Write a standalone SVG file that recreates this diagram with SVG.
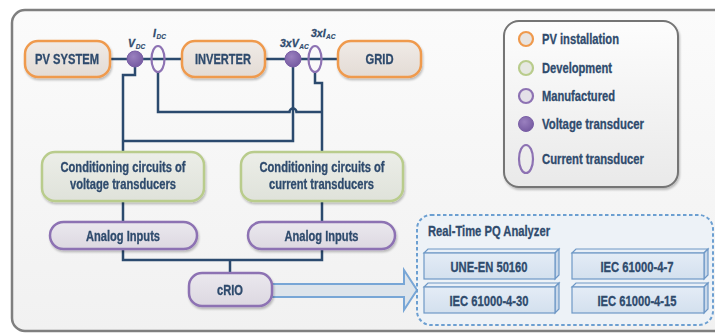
<svg xmlns="http://www.w3.org/2000/svg" width="715" height="334" viewBox="0 0 715 334">
  <defs>
    <linearGradient id="bgGrad" x1="0" y1="0" x2="0" y2="1">
      <stop offset="0" stop-color="#fbfbfb"/>
      <stop offset="1" stop-color="#f1f1f1"/>
    </linearGradient>
    <linearGradient id="legendGrad" x1="0" y1="0" x2="0" y2="1">
      <stop offset="0" stop-color="#fdfdfd"/>
      <stop offset="1" stop-color="#e9e9e9"/>
    </linearGradient>
    <linearGradient id="orangeFill" x1="0" y1="0" x2="0" y2="1">
      <stop offset="0" stop-color="#f0ebe7"/>
      <stop offset="1" stop-color="#e3dbd5"/>
    </linearGradient>
    <linearGradient id="greenFill" x1="0" y1="0" x2="0" y2="1">
      <stop offset="0" stop-color="#eceee8"/>
      <stop offset="1" stop-color="#dfe2da"/>
    </linearGradient>
    <linearGradient id="purpleFill" x1="0" y1="0" x2="0" y2="1">
      <stop offset="0" stop-color="#ebe8ee"/>
      <stop offset="1" stop-color="#dcd8e1"/>
    </linearGradient>
    <linearGradient id="blueFace" x1="0" y1="0" x2="0" y2="1">
      <stop offset="0" stop-color="#e4ecf6"/>
      <stop offset="1" stop-color="#d3e0ee"/>
    </linearGradient>
    <radialGradient id="dotFill" cx="0.4" cy="0.35" r="0.7">
      <stop offset="0" stop-color="#9a80bf"/>
      <stop offset="1" stop-color="#7459a0"/>
    </radialGradient>
    <filter id="shadow" x="-10%" y="-10%" width="125%" height="135%">
      <feGaussianBlur in="SourceAlpha" stdDeviation="1.2"/>
      <feOffset dx="1" dy="1.5" result="b"/>
      <feComponentTransfer><feFuncA type="linear" slope="0.25"/></feComponentTransfer>
      <feMerge><feMergeNode/><feMergeNode in="SourceGraphic"/></feMerge>
    </filter>
    <style>
      text { font-family: "Liberation Sans", Arial, sans-serif; font-weight: bold; fill: #2f4b6d; stroke: #2f4b6d; stroke-width: 0.3; }
      .lbl { font-size: 14px; text-anchor: middle; }
      .leg { font-size: 14px; }
      .meas { font-size: 10.5px; font-style: italic; }
      .sub { font-size: 6.5px; font-style: italic; stroke-width: 0.15; }
      .wire { fill: none; stroke: #2b4a6e; stroke-width: 2.5; }
      .orange { fill: url(#orangeFill); stroke: #ef9a4e; stroke-width: 2.5; }
      .green { fill: url(#greenFill); stroke: #b9cc8c; stroke-width: 2.5; }
      .purple { fill: url(#purpleFill); stroke: #8d72b3; stroke-width: 2.5; }
      .vt { fill: url(#dotFill); stroke: #7a5fa6; stroke-width: 1; }
      .ct { fill: none; stroke: #8d72b3; stroke-width: 2.2; }
      .face { fill: url(#blueFace); stroke: #6e98c6; stroke-width: 1.2; }
      .side { fill: #c9d8ea; stroke: #6e98c6; stroke-width: 1.2; }
      .top { fill: #e8eff7; stroke: #6e98c6; stroke-width: 1.2; }
    </style>
  </defs>

  <!-- outer frame -->
  <rect x="12" y="10" width="740" height="321" rx="13" fill="url(#bgGrad)" stroke="#7f7f7f" stroke-width="2.5"/>

  <!-- connectors -->
  <g id="connectors">
    <path class="wire" d="M110,59 H338"/>
    <path class="wire" d="M135,59 V75 H123 V152"/>
    <path class="wire" d="M123,141 H293 V59"/>
    <path class="wire" d="M158,72 V112 H289.5 A3.5,3.5 0 0 1 296.5,112 H322"/>
    <path class="wire" d="M315,72 V83 H322 V152"/>
    <path class="wire" d="M123,201 V222"/>
    <path class="wire" d="M322,201 V222"/>
    <path class="wire" d="M123,249 V260 H322 V249"/>
    <path class="wire" d="M230,260 V273"/>
    <polygon points="272,284 404,284 404,270 417,290 404,310 404,297 272,297" fill="#dde4eb" stroke="#78a6d6" stroke-width="2"/>
  </g>

  <!-- power path -->
  <g id="pv-system" filter="url(#shadow)">
    <rect class="orange" x="25" y="41" width="85" height="36" rx="13"/>
    <text class="lbl" x="67" y="64" textLength="64" lengthAdjust="spacingAndGlyphs">PV SYSTEM</text>
  </g>
  <g id="inverter" filter="url(#shadow)">
    <rect class="orange" x="182" y="41" width="83" height="36" rx="13"/>
    <text class="lbl" x="223" y="64" textLength="56" lengthAdjust="spacingAndGlyphs">INVERTER</text>
  </g>
  <g id="grid" filter="url(#shadow)">
    <rect class="orange" x="338" y="41" width="83" height="36" rx="13"/>
    <text class="lbl" x="379.5" y="64" textLength="28" lengthAdjust="spacingAndGlyphs">GRID</text>
  </g>

  <!-- transducers -->
  <g id="vdc">
    <circle class="vt" cx="135" cy="59" r="8"/>
    <text class="meas" x="128" y="47">V</text>
    <text class="sub" x="135.8" y="48.5">DC</text>
  </g>
  <g id="idc">
    <ellipse class="ct" cx="158" cy="59" rx="6.5" ry="13"/>
    <text class="meas" x="153" y="37">I</text>
    <text class="sub" x="156.6" y="38.5">DC</text>
  </g>
  <g id="vac">
    <circle class="vt" cx="293" cy="59" r="8"/>
    <text class="meas" x="280" y="47">3xV</text>
    <text class="sub" x="299.2" y="48.5">AC</text>
  </g>
  <g id="iac">
    <ellipse class="ct" cx="315" cy="59" rx="6.5" ry="13"/>
    <text class="meas" x="311" y="37">3xI</text>
    <text class="sub" x="326" y="38.5">AC</text>
  </g>

  <!-- conditioning -->
  <g id="cond-voltage" filter="url(#shadow)">
    <rect class="green" x="42" y="152" width="162" height="49" rx="13"/>
    <text class="lbl" x="123" y="172" textLength="125" lengthAdjust="spacingAndGlyphs">Conditioning circuits of</text>
    <text class="lbl" x="123" y="189" textLength="106" lengthAdjust="spacingAndGlyphs">voltage transducers</text>
  </g>
  <g id="cond-current" filter="url(#shadow)">
    <rect class="green" x="241" y="152" width="162" height="49" rx="13"/>
    <text class="lbl" x="322" y="172" textLength="125" lengthAdjust="spacingAndGlyphs">Conditioning circuits of</text>
    <text class="lbl" x="321.5" y="189" textLength="105" lengthAdjust="spacingAndGlyphs">current transducers</text>
  </g>

  <!-- acquisition -->
  <g id="ai-voltage" filter="url(#shadow)">
    <rect class="purple" x="50" y="222" width="147" height="27" rx="13.5"/>
    <text class="lbl" x="123" y="241" textLength="74" lengthAdjust="spacingAndGlyphs">Analog Inputs</text>
  </g>
  <g id="ai-current" filter="url(#shadow)">
    <rect class="purple" x="248" y="222" width="147" height="27" rx="13.5"/>
    <text class="lbl" x="321.5" y="241" textLength="74" lengthAdjust="spacingAndGlyphs">Analog Inputs</text>
  </g>
  <g id="crio" filter="url(#shadow)">
    <rect class="purple" x="189" y="273" width="83" height="33" rx="13"/>
    <text class="lbl" x="230" y="295" textLength="26" lengthAdjust="spacingAndGlyphs">cRIO</text>
  </g>

  <!-- analyzer -->
  <g id="pq-analyzer">
    <rect x="417" y="215" width="296" height="110" rx="14" fill="#edf2f7" stroke="#6c9fd1" stroke-width="2" stroke-dasharray="3.5 2.5"/>
    <text class="leg" x="428" y="236" textLength="122" lengthAdjust="spacingAndGlyphs">Real-Time PQ Analyzer</text>
  </g>
  <g id="une-en-50160">
    <polygon class="top" points="424,253 428,249 559,249 555,253"/>
    <polygon class="side" points="555,253 559,249 559,275 555,279"/>
    <rect class="face" x="424" y="253" width="131" height="26"/>
    <text class="lbl" x="489" y="272" textLength="77" lengthAdjust="spacingAndGlyphs">UNE-EN 50160</text>
  </g>
  <g id="iec-61000-4-7">
    <polygon class="top" points="572,253 576,249 708,249 704,253"/>
    <polygon class="side" points="704,253 708,249 708,275 704,279"/>
    <rect class="face" x="572" y="253" width="132" height="26"/>
    <text class="lbl" x="637" y="272" textLength="73" lengthAdjust="spacingAndGlyphs">IEC 61000-4-7</text>
  </g>
  <g id="iec-61000-4-30">
    <polygon class="top" points="424,287 428,283 559,283 555,287"/>
    <polygon class="side" points="555,287 559,283 559,309 555,313"/>
    <rect class="face" x="424" y="287" width="131" height="26"/>
    <text class="lbl" x="489" y="306" textLength="79" lengthAdjust="spacingAndGlyphs">IEC 61000-4-30</text>
  </g>
  <g id="iec-61000-4-15">
    <polygon class="top" points="572,287 576,283 708,283 704,287"/>
    <polygon class="side" points="704,287 708,283 708,309 704,313"/>
    <rect class="face" x="572" y="287" width="132" height="26"/>
    <text class="lbl" x="637" y="306" textLength="79" lengthAdjust="spacingAndGlyphs">IEC 61000-4-15</text>
  </g>

  <!-- legend -->
  <g id="legend">
    <rect x="504" y="21" width="174" height="166" rx="15" fill="url(#legendGrad)" stroke="#747474" stroke-width="2" filter="url(#shadow)"/>
    <circle cx="526" cy="39" r="7" fill="#e8e4e1" stroke="#ef9a4e" stroke-width="2.2"/>
    <text class="leg" x="542" y="44" textLength="77" lengthAdjust="spacingAndGlyphs">PV installation</text>
    <circle cx="526" cy="68" r="7" fill="#e6e8e2" stroke="#b9cc8c" stroke-width="2.2"/>
    <text class="leg" x="542" y="73" textLength="70" lengthAdjust="spacingAndGlyphs">Development</text>
    <circle cx="526" cy="96" r="7" fill="#e4e0e8" stroke="#8d72b3" stroke-width="2.2"/>
    <text class="leg" x="542" y="101" textLength="73" lengthAdjust="spacingAndGlyphs">Manufactured</text>
    <circle class="vt" cx="526" cy="124" r="7.5"/>
    <text class="leg" x="542" y="129" textLength="102" lengthAdjust="spacingAndGlyphs">Voltage transducer</text>
    <ellipse class="ct" cx="526" cy="159" rx="7" ry="14"/>
    <text class="leg" x="542" y="164" textLength="102" lengthAdjust="spacingAndGlyphs">Current transducer</text>
  </g>
</svg>
